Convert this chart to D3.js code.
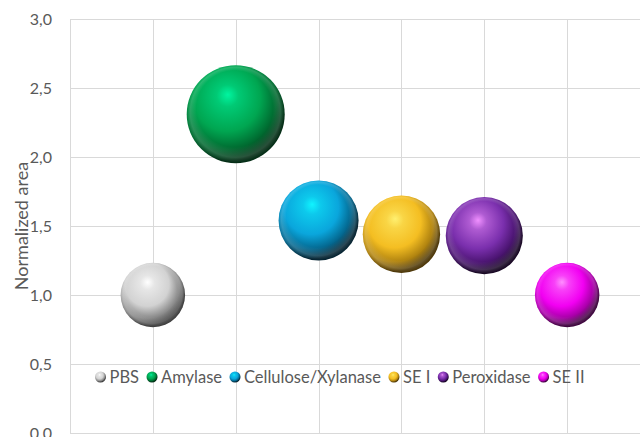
<!DOCTYPE html>
<html>
<head>
<meta charset="utf-8">
<script src="https://cdn.jsdelivr.net/npm/d3@7/dist/d3.min.js"></script>
<style>
  html, body { margin: 0; padding: 0; background: #ffffff; }
  svg { display: block; }
  text { font-family: Lato, "Open Sans", sans-serif; fill: #595959; }
</style>
</head>
<body>
<svg id="chart" width="640" height="437"></svg>
<script>
// Normalized area per treatment; bubble size uses the same value
const categories = ["PBS", "Amylase", "Cellulose/Xylanase", "SE I", "Peroxidase", "SE II"];
const xPositions = [1, 2, 3, 4, 5, 6];
const normalizedArea = [1.00, 2.31, 1.54, 1.44, 1.43, 1.00];
const bubbleSizes = [1.00, 2.31, 1.54, 1.44, 1.43, 1.00];
const yTicks = [0, 0.5, 1.0, 1.5, 2.0, 2.5, 3.0];
const xTicks = [0, 1, 2, 3, 4, 5, 6, 7];

// sphere shading: highlight, body, shadow, rim
const palettes = [
  { hi: "#ffffff", body: "#d2d2d2", dark: "#8a8a8a", rim: "#3a3a3a" },
  { hi: "#00f5a0", body: "#00a651", dark: "#006a30", rim: "#002a12" },
  { hi: "#10f4ff", body: "#0aa6dc", dark: "#046890", rim: "#01202e" },
  { hi: "#fff070", body: "#f4be22", dark: "#b08310", rim: "#4a3404" },
  { hi: "#f090ff", body: "#7a2fad", dark: "#4a1470", rim: "#140320" },
  { hi: "#ff90ff", body: "#f200f2", dark: "#a800a8", rim: "#3a003a" }
];

const svg = d3.select("#chart");
const margin = { left: 70, top: 19 };
const plotW = 580, plotH = 414;

const x = d3.scaleLinear().domain([0, 7]).range([margin.left, margin.left + plotW]);
const y = d3.scaleLinear().domain([0, 3]).range([margin.top + plotH, margin.top]);
const r = d3.scaleSqrt().domain([0, d3.max(bubbleSizes)]).range([0, 49]);

const commaFmt = d3.formatLocale({ decimal: ",", thousands: ".", grouping: [3], currency: ["", ""] }).format(".1f");

// gradients: the gradient circle sits up-left so only the lower-right rim goes dark
const defs = svg.append("defs");
palettes.forEach((p, i) => {
  const g = defs.append("radialGradient")
    .attr("id", "sphere" + i)
    .attr("cx", "40%").attr("cy", "36%").attr("r", "62%")
    .attr("fx", "42%").attr("fy", "30%");
  g.append("stop").attr("offset", "0%").attr("stop-color", p.hi);
  g.append("stop").attr("offset", "18%").attr("stop-color", d3.interpolateRgb(p.hi, p.body)(0.55));
  g.append("stop").attr("offset", "55%").attr("stop-color", p.body);
  g.append("stop").attr("offset", "82%").attr("stop-color", p.dark);
  g.append("stop").attr("offset", "100%").attr("stop-color", p.rim);
});
// soft reflected light along the lower rim
const refl = defs.append("radialGradient")
  .attr("id", "reflect")
  .attr("cx", "50%").attr("cy", "50%").attr("r", "50%")
  .attr("fx", "45%").attr("fy", "25%");
refl.append("stop").attr("offset", "0%").attr("stop-color", "#fff").attr("stop-opacity", 0);
refl.append("stop").attr("offset", "78%").attr("stop-color", "#fff").attr("stop-opacity", 0);
refl.append("stop").attr("offset", "92%").attr("stop-color", "#fff").attr("stop-opacity", 0.16);
refl.append("stop").attr("offset", "100%").attr("stop-color", "#fff").attr("stop-opacity", 0);

// gridlines
const grid = svg.append("g").attr("stroke", "#d9d9d9").attr("stroke-width", 1);
grid.selectAll("line.h").data(yTicks).join("line")
  .attr("class", "h")
  .attr("x1", x(0)).attr("x2", x(7))
  .attr("y1", d => Math.round(y(d)) + 0.5).attr("y2", d => Math.round(y(d)) + 0.5);
grid.selectAll("line.v").data(xTicks).join("line")
  .attr("class", "v")
  .attr("x1", d => Math.round(x(d)) + 0.5).attr("x2", d => Math.round(x(d)) + 0.5)
  .attr("y1", y(3)).attr("y2", y(0));

// y axis labels
const yAxis = d3.axisLeft(y).tickValues(yTicks).tickFormat(commaFmt).tickSize(0).tickPadding(18);
const ya = svg.append("g").attr("transform", `translate(${x(0)},0)`).call(yAxis);
ya.select(".domain").remove();
ya.selectAll("text").style("font-family", "Lato, sans-serif").style("font-size", "16px").attr("fill", "#595959");

// axis title
svg.append("text")
  .attr("transform", `translate(21,${(y(0) + y(3)) / 2}) rotate(-90)`)
  .attr("text-anchor", "middle")
  .attr("dominant-baseline", "central")
  .style("font-size", "18px")
  .text("Normalized area");

// bubbles
const data = categories.map((c, i) => ({ c, i, xv: xPositions[i], yv: normalizedArea[i], s: bubbleSizes[i] }));
const bubbles = svg.append("g").selectAll("g").data(data).join("g");
bubbles.append("circle")
  .attr("cx", d => x(d.xv)).attr("cy", d => y(d.yv)).attr("r", d => r(d.s))
  .attr("fill", d => `url(#sphere${d.i})`);
bubbles.append("circle")
  .attr("cx", d => x(d.xv)).attr("cy", d => y(d.yv)).attr("r", d => r(d.s))
  .attr("fill", "url(#reflect)");

// legend
const legend = svg.append("g").attr("transform", "translate(0,377)");
let cursor = 95;
data.forEach(d => {
  const item = legend.append("g");
  item.append("circle").attr("cx", cursor + 5.5).attr("cy", 0).attr("r", 5.5)
    .attr("fill", `url(#sphere${d.i})`);
  const t = item.append("text")
    .attr("x", cursor + 14.5).attr("y", 0)
    .attr("dominant-baseline", "central")
    .style("font-size", "16.5px")
    .text(d.c);
  cursor += 14.5 + t.node().getComputedTextLength() + 7.5;
});
</script>
</body>
</html>
